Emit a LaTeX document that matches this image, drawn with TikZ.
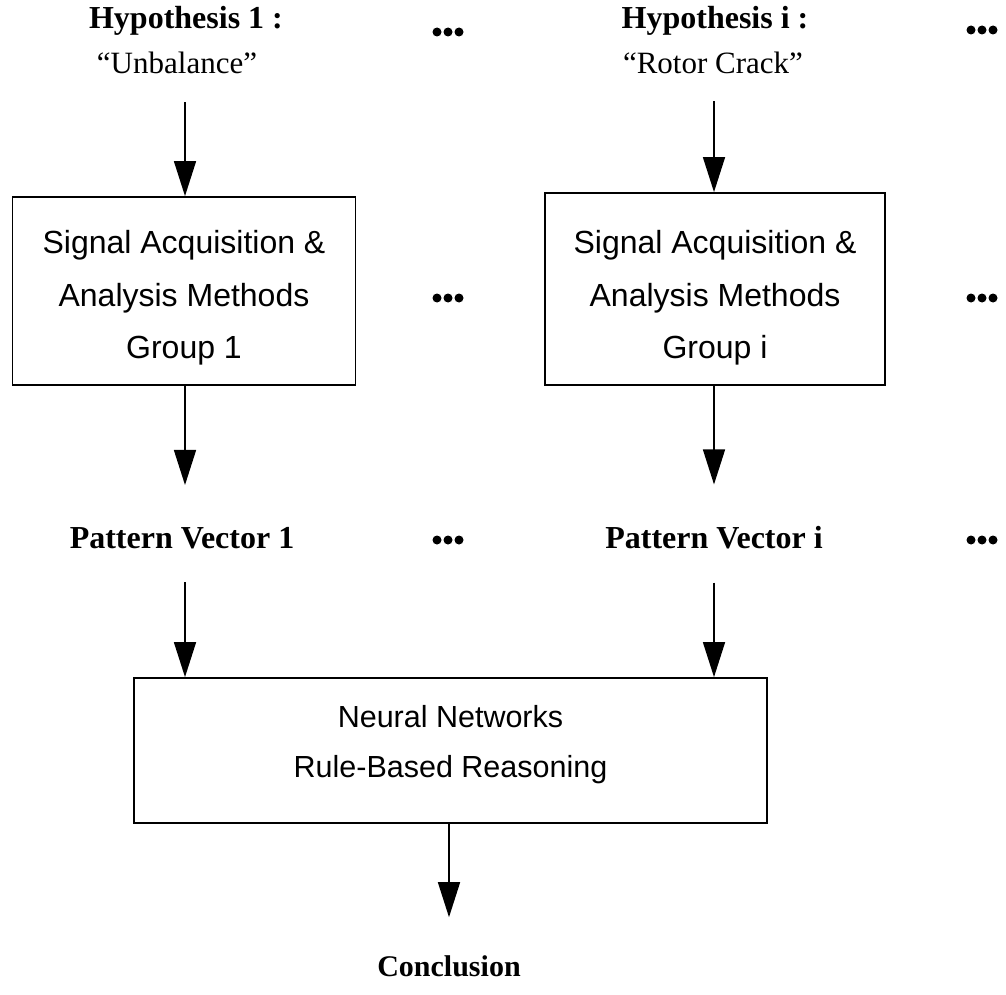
\documentclass[tikz,border=0pt]{standalone}
\usepackage{fontspec}
\setmainfont{Liberation Serif}
\setsansfont{Liberation Sans}
\usetikzlibrary{arrows.meta}
\begin{document}
\begin{tikzpicture}[x=1pt,y=-1pt,
  txt/.style={inner sep=0pt, font=\fontsize{31}{36}\selectfont},
  heading/.style={inner sep=0pt, font=\fontsize{32}{36}\selectfont\bfseries},
  frame/.style={draw, line width=1.8pt, inner sep=0pt},
  boxtext/.style={inner sep=0pt, align=center,
    font=\sffamily\fontsize{32}{52.5}\selectfont},
  flow/.style={line width=1.5pt, -{Triangle[length=35pt,width=22pt]}}]
\useasboundingbox (0,0) rectangle (1006,995);

% column axes
\coordinate (c1) at (185,0);
\coordinate (c2) at (714,0);

% hypotheses
\node[heading] (h1) at (186,21) {Hypothesis 1 :};
\node[txt] (q1) at (177,63) {“Unbalance”};
\node[heading] (h2) at (715,21) {Hypothesis i :};
\node[txt] (q2) at (713,63) {“Rotor Crack”};

% signal acquisition groups
\node[frame, minimum width=343pt, minimum height=188pt] (b1) at (184,291) {};
\node[boxtext] (b1t) at (184,298)
  {Signal Acquisition \&\\Analysis Methods\\Group 1};
\node[frame, minimum width=340pt, minimum height=192pt] (b2) at (715,289) {};
\node[boxtext] (b2t) at (715,298)
  {Signal Acquisition \&\\Analysis Methods\\Group i};

% pattern vectors
\node[heading] (p1) at (182,538) {Pattern Vector 1};
\node[heading] (p2) at (714,538) {Pattern Vector i};

% reasoning stage
\node[frame, minimum width=633pt, minimum height=145pt] (nn) at (450.5,750.5) {};
\node[inner sep=0pt, align=center, font=\sffamily\fontsize{30.5}{50}\selectfont]
  (nnt) at (450.5,745) {Neural Networks\\Rule-Based Reasoning};

\node[heading, font=\fontsize{30}{34}\selectfont\bfseries] (cc) at (449,966) {Conclusion};

% connectors
\draw[flow, shorten <=28pt] (q1.south -| c1) -- (c1 |- b1.north);
\draw[flow, shorten <=27pt] (q2.south -| c2) -- (c2 |- b2.north);
\draw[flow, shorten >=42pt] (b1.south -| c1) -- (c1 |- p1.north);
\draw[flow, shorten >=42pt] (b2.south -| c2) -- (c2 |- p2.north);
\draw[flow, shorten <=33pt] (p1.south -| c1) -- (c1 |- nn.north);
\draw[flow, shorten <=33pt] (p2.south -| c2) -- (c2 |- nn.north);
\draw[flow, shorten >=38pt] (nn.south -| cc) -- (cc.north);

% ellipses between and after the columns
\foreach \x/\y in {448/32, 448/298, 448/540, 982/30, 982/298, 982/540}
  \foreach \d in {-11,0,11}
    \fill (\x+\d,\y) circle[radius=4.5];
\end{tikzpicture}
\end{document}
